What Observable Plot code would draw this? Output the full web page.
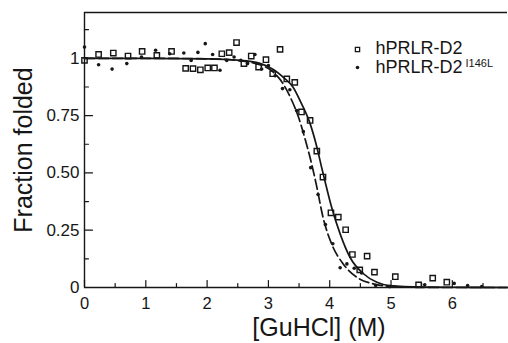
<!DOCTYPE html>
<html><head><meta charset="utf-8">
<script src="https://cdn.jsdelivr.net/npm/d3@7"></script>
<script src="https://cdn.jsdelivr.net/npm/@observablehq/plot@0.6"></script>
<style>body{margin:0;background:#fff;} #chart svg{display:block;}</style>
</head><body><div id="chart"></div>
<script>
// hPRLR-D2 (open squares)
const sqX = [0, 0.23, 0.47, 0.71, 0.94, 1.18, 1.42, 1.65, 1.77, 1.89, 2.01, 2.12, 2.24, 2.36, 2.48, 2.60, 2.72, 2.84, 2.96, 3.07, 3.19, 3.30, 3.43, 3.54, 3.68, 3.79, 3.89, 4.02, 4.14, 4.26, 4.37, 4.49, 4.61, 4.73, 5.07, 5.45, 5.68, 5.91];
const sqY = [0.991, 1.017, 1.023, 1.01, 1.03, 1.013, 1.03, 0.956, 0.955, 0.95, 0.958, 0.958, 1.02, 1.025, 1.069, 0.977, 1.01, 0.962, 0.994, 0.933, 1.039, 0.91, 0.895, 0.766, 0.729, 0.595, 0.482, 0.326, 0.307, 0.252, 0.144, 0.077, 0.137, 0.067, 0.047, 0.011, 0.041, 0.023];
// hPRLR-D2 I146L (filled dots)
const dtX = [0, 0.23, 0.45, 0.69, 0.93, 1.16, 1.39, 1.62, 1.74, 1.85, 1.97, 2.09, 2.21, 2.32, 2.44, 2.55, 2.66, 2.78, 2.89, 3.0, 3.11, 3.23, 3.35, 3.46, 3.57, 3.69, 3.81, 3.93, 4.05, 4.17, 4.28, 4.40, 4.52, 4.75, 4.98, 5.55, 6.03, 6.25, 6.48];
const dtY = [1.049, 0.972, 0.953, 0.977, 1.006, 1.035, 1.02, 1.023, 0.991, 1.026, 1.064, 1.017, 0.948, 0.991, 1.006, 0.991, 0.977, 1.017, 0.953, 0.969, 0.924, 0.868, 0.863, 0.772, 0.68, 0.523, 0.406, 0.275, 0.191, 0.086, 0.103, 0.084, 0.063, 0.009, 0.004, 0.012, 0.018, 0.009, 0.004];
// fitted curves
const fitX1 = [0, 1, 2, 2.5, 2.86, 3.08, 3.24, 3.40, 3.54, 3.68, 3.79, 3.87, 3.92, 4.03, 4.17, 4.33, 4.55, 4.77, 4.98, 5.5, 6.0, 6.9];
const fitY1 = [1.0, 1.0, 0.998, 0.992, 0.978, 0.951, 0.918, 0.875, 0.802, 0.715, 0.613, 0.522, 0.467, 0.351, 0.234, 0.132, 0.060, 0.023, 0.008, 0.002, 0.001, 0];
const fitX2 = [0, 1, 2, 2.5, 2.86, 3.08, 3.24, 3.38, 3.49, 3.59, 3.70, 3.79, 3.89, 4.03, 4.22, 4.44, 4.71, 4.98, 5.5, 6.0, 6.9];
const fitY2 = [1.0, 1.0, 0.998, 0.99, 0.972, 0.94, 0.889, 0.817, 0.744, 0.656, 0.545, 0.438, 0.307, 0.191, 0.103, 0.045, 0.016, 0.005, 0.001, 0, 0];
// ticks
const xMajor = [0, 1, 2, 3, 4, 5, 6];
const xMinor = [0.5, 1.5, 2.5, 3.5, 4.5, 5.5, 6.5];
const yMajor = [0, 0.25, 0.5, 0.75, 1];
const yLabels = ["0", "0.25", "0.50", "0.75", "1"];
const yMinor = [0.125, 0.375, 0.625, 0.875, 1.125];
const seriesNames = ["hPRLR-D2", "hPRLR-D2", "I146L"];
const xTitle = "[GuHCl] (M)";
const yTitle = "Fraction folded";

const sq = sqX.map((x, i) => ({x, y: sqY[i]}));
const dt = dtX.map((x, i) => ({x, y: dtY[i]}));
const f1 = fitX1.map((x, i) => ({x, y: fitY1[i]}));
const f2 = fitX2.map((x, i) => ({x, y: fitY2[i]}));
const yLab = new Map(yMajor.map((v, i) => [v, yLabels[i]]));

const ink = "#161616";
const spike = {draw(ctx, l) { ctx.moveTo(0, 0); ctx.lineTo(0, -l); }};

const chart = Plot.plot({
  width: 508, height: 343,
  marginLeft: 84, marginRight: 1, marginTop: 12, marginBottom: 56,
  style: {fontFamily: "'Liberation Sans', Arial, sans-serif", background: "#fff", color: ink},
  x: {domain: [0, 6.9]},
  y: {domain: [0, 1.2]},
  marks: [
    Plot.axisX(xMajor, {tickSize: 0, tickPadding: 10, fontSize: 16.5, tickFormat: d => String(d), label: null}),
    Plot.axisY(yMajor, {tickSize: 0, tickPadding: 5, fontSize: 17, tickFormat: d => yLab.get(d), label: null}),
    Plot.axisY([], {tickSize: 0, fontSize: 25, label: yTitle, labelAnchor: "center", labelArrow: "none", labelOffset: 70}),
    // inward ticks
    Plot.vector(xMajor, {x: d => d, y: 0, length: 7, rotate: 0, anchor: "start", shape: spike, stroke: ink, strokeWidth: 1.2}),
    Plot.vector(xMinor, {x: d => d, y: 0, length: 4, rotate: 0, anchor: "start", shape: spike, stroke: ink, strokeWidth: 1.2}),
    Plot.vector(yMajor, {x: 0, y: d => d, length: 8, rotate: 90, anchor: "start", shape: spike, stroke: ink, strokeWidth: 1.2}),
    Plot.vector(yMinor, {x: 0, y: d => d, length: 4, rotate: 90, anchor: "start", shape: spike, stroke: ink, strokeWidth: 1.2}),
    // frame (left, top, bottom)
    Plot.ruleX([0], {stroke: ink, strokeWidth: 1.4}),
    Plot.ruleY([0, 1.2], {stroke: ink, strokeWidth: 1.4}),
    // fits
    Plot.line(f1, {x: "x", y: "y", stroke: ink, strokeWidth: 1.7, curve: "monotone-x"}),
    Plot.line(f2, {x: "x", y: "y", stroke: ink, strokeWidth: 1.7, strokeDasharray: "10,4", curve: "monotone-x"}),
    // data
    Plot.dot(sq, {x: "x", y: "y", symbol: "square", r: 3, stroke: ink, strokeWidth: 1.4, fill: "none"}),
    Plot.dot(dt, {x: "x", y: "y", r: 1.8, fill: ink, stroke: "none"}),
    // x title
    Plot.text([xTitle], {text: d => d, frameAnchor: "bottom", dx: 23, dy: 40, fontSize: 25, fill: ink, lineAnchor: "middle"}),
    // legend
    Plot.dot([seriesNames[0]], {frameAnchor: "top-left", dx: 273, dy: 37, symbol: "square", r: 2.4, stroke: ink, strokeWidth: 1.3, fill: "none"}),
    Plot.dot([seriesNames[1]], {frameAnchor: "top-left", dx: 273, dy: 55, r: 1.8, fill: ink}),
    Plot.text([seriesNames[0]], {text: d => d, frameAnchor: "top-left", dx: 291, dy: 36, fontSize: 18, textAnchor: "start", lineAnchor: "middle", fill: ink}),
    Plot.text([seriesNames[1]], {text: d => d, frameAnchor: "top-left", dx: 291, dy: 55, fontSize: 18, textAnchor: "start", lineAnchor: "middle", fill: ink}),
    Plot.text([seriesNames[2]], {text: d => d, frameAnchor: "top-left", dx: 381, dy: 51, fontSize: 11, textAnchor: "start", lineAnchor: "middle", fill: ink})
  ]
});
document.getElementById("chart").appendChild(chart);
</script>
</body></html>
